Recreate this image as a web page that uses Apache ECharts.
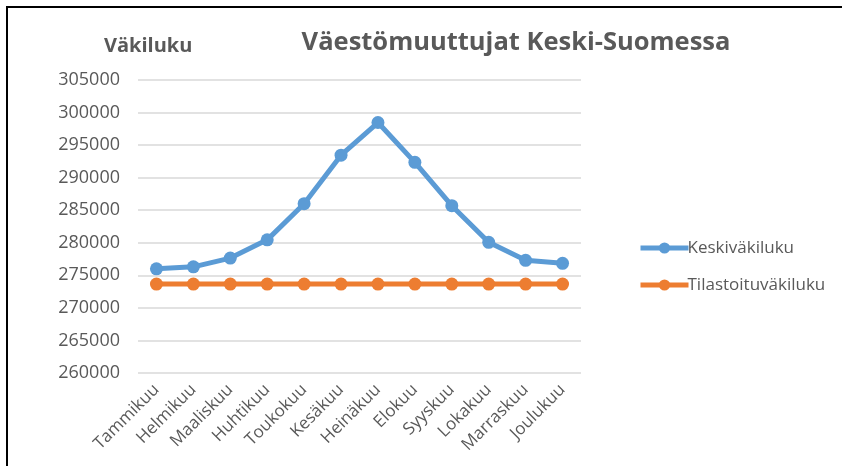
<!DOCTYPE html>
<html>
<head>
<meta charset="utf-8">
<script src="https://cdn.jsdelivr.net/npm/echarts@6/dist/echarts.min.js"></script>
<style>
  html, body { margin: 0; padding: 0; background: #fff; }
  #frame { position: absolute; left: 6px; top: 6px; width: 836px; height: 460px;
           border-left: 2px solid #000; border-top: 2px solid #000; }
  #main { position: absolute; left: 0; top: 0; width: 842px; height: 466px; }
</style>
</head>
<body>
<div id="frame"></div>
<div id="main"></div>
<script>
// kuukaudet
var months = ['Tammikuu', 'Helmikuu', 'Maaliskuu', 'Huhtikuu', 'Toukokuu', 'Kesäkuu',
  'Heinäkuu', 'Elokuu', 'Syyskuu', 'Lokakuu', 'Marraskuu', 'Joulukuu']
// keskiväkiluku
var keskivakiluku = [276000, 276300, 277650, 280450, 286000, 293450,
  298470, 292350, 285700, 280070, 277300, 276850]
// tilastoitu väkiluku
var tilastoitu = [273650, 273650, 273650, 273650, 273650, 273650,
  273650, 273650, 273650, 273650, 273650, 273650]
var seriesNames = ['Keskiväkiluku', 'Tilastoituväkiluku']

var font = "'Open Sans', sans-serif"
var gray = '#595959'

var chart = echarts.init(document.getElementById('main'))
chart.setOption({
  animation: false,
  color: ['#5B9BD5', '#ED7D31'],
  textStyle: { fontFamily: font },
  title: [
    {
      text: 'Väestömuuttujat Keski-Suomessa',
      left: 511, top: 25, textAlign: 'center',
      textStyle: { fontFamily: font, fontSize: 25.5, fontWeight: 'bold', color: gray }
    },
    {
      text: 'Väkiluku',
      left: 99, top: 31,
      textStyle: { fontFamily: font, fontSize: 20, fontWeight: 'bold', color: gray }
    }
  ],
  legend: {
    orient: 'vertical',
    left: 638, top: 238,
    padding: 0,
    itemWidth: 48, itemHeight: 14,
    itemGap: 17,
    lineStyle: { width: 5 },
    textStyle: { fontFamily: font, fontSize: 17, lineHeight: 20, color: gray, padding: [0, 0, 0, -6] },
    data: seriesNames
  },
  grid: { left: 138, right: 261, top: 80, bottom: 93 },
  xAxis: {
    type: 'category',
    data: months,
    boundaryGap: true,
    axisLine: { show: false },
    axisTick: { show: false },
    axisLabel: { rotate: 45, color: gray, fontFamily: font, fontSize: 17, margin: 14, interval: 0 }
  },
  yAxis: {
    type: 'value',
    min: 260000, max: 305000, interval: 5000,
    axisLine: { show: false },
    axisTick: { show: false },
    axisLabel: {
      color: gray, fontFamily: font, fontSize: 18, margin: 18,
      formatter: function (v) { return String(v) }
    },
    splitLine: { lineStyle: { color: '#d9d9d9', width: 1.5 } }
  },
  series: [
    {
      name: seriesNames[0], type: 'line', data: keskivakiluku,
      symbol: 'circle', symbolSize: 13,
      lineStyle: { width: 5 }
    },
    {
      name: seriesNames[1], type: 'line', data: tilastoitu,
      symbol: 'circle', symbolSize: 13,
      lineStyle: { width: 5 }
    }
  ]
})
</script>
</body>
</html>
